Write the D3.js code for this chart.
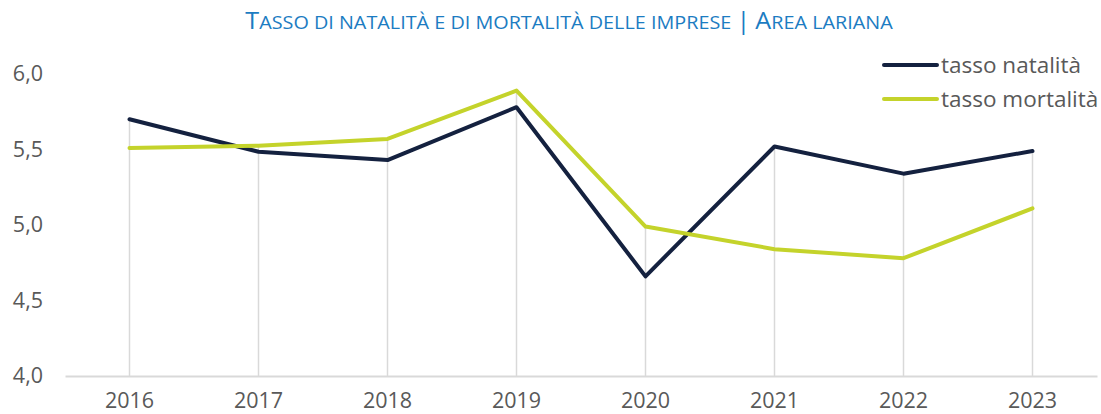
<!DOCTYPE html>
<html><head><meta charset="utf-8">
<script src="https://cdn.jsdelivr.net/npm/d3@7"></script>
<style>body{margin:0;background:#fff;}svg{display:block;}</style>
</head><body>
<svg id="c" width="1101" height="414"></svg>
<script>
const years = ["2016","2017","2018","2019","2020","2021","2022","2023"];
const natalita = [5.70, 5.485, 5.43, 5.78, 4.66, 5.52, 5.34, 5.49];
const mortalita = [5.51, 5.525, 5.57, 5.89, 4.99, 4.84, 4.78, 5.11];
const yTicks = [4.0, 4.5, 5.0, 5.5, 6.0];
const seriesNames = ["tasso natalità", "tasso mortalità"];
const colors = ["#14213f", "#c4d32b"];
const title = "Tasso di natalità e di mortalità delle imprese | Area lariana";

const svg = d3.select("#c");
const font = "'Open Sans', sans-serif";
const x = d3.scaleBand().domain(years).range([65, 1097]);
const y = d3.scaleLinear().domain([4, 6]).range([376, 74]);
const cx = d => x(d) + x.bandwidth()/2;

// title with manual small caps
const tt = svg.append("text").attr("x", 569).attr("y", 29).attr("text-anchor","middle")
  .attr("font-family", font).attr("fill","#1c7cc2");
const words = title.split(" ");
words.forEach((w,i)=>{
  const sp = i < words.length-1 ? " " : "";
  const first = w[0], rest = w.slice(1);
  const big = first === first.toUpperCase();
  if (big) {
    tt.append("tspan").attr("font-size",23.5).text(first);
    tt.append("tspan").attr("font-size",18.5).text(rest.toUpperCase()+sp);
  } else {
    tt.append("tspan").attr("font-size",18.5).text(w.toUpperCase()+sp);
  }
});
const bb = tt.node().getBBox();
const targetW = 648;
const sx = targetW / bb.width;
tt.attr("transform", `translate(${569*(1-sx)},0) scale(${sx},1)`);

// drop lines
svg.append("g").selectAll("line").data(years).join("line")
  .attr("x1", d=>cx(d)).attr("x2", d=>cx(d))
  .attr("y1", y(4)).attr("y2", (d,i)=>y(Math.max(natalita[i], mortalita[i])))
  .attr("stroke","#d9d9d9").attr("stroke-width",1.5);

// x axis
const xa = svg.append("g").attr("transform",`translate(0,${y(4)})`)
  .call(d3.axisBottom(x).tickSize(0).tickPadding(17));
xa.select(".domain").attr("stroke","#d9d9d9").attr("stroke-width",2);
xa.selectAll("text").attr("font-family",font).attr("font-size",21.5).attr("fill","#595959");

// y axis
const ya = svg.append("g").attr("transform","translate(43,0)")
  .call(d3.axisLeft(y).tickValues(yTicks).tickSize(0).tickPadding(0)
    .tickFormat(d=>d3.format(".1f")(d).replace(".",",")));
ya.select(".domain").remove();
ya.selectAll("text").attr("font-family",font).attr("font-size",21.5).attr("fill","#595959");

const line = d3.line().x((d,i)=>cx(years[i])).y(d=>y(d));
[natalita, mortalita].forEach((s,k)=>{
  svg.append("path").datum(s).attr("d", line).attr("fill","none")
    .attr("stroke", colors[k]).attr("stroke-width",4).attr("stroke-linejoin","round").attr("stroke-linecap","round");
});

// legend
const lg = svg.append("g");
seriesNames.forEach((n,k)=>{
  const ly = 65 + k*34;
  lg.append("line").attr("x1",884).attr("x2",937).attr("y1",ly).attr("y2",ly)
    .attr("stroke",colors[k]).attr("stroke-width",4).attr("stroke-linecap","round");
  lg.append("text").attr("x",941).attr("y",ly).attr("dy","0.35em")
    .attr("font-family",font).attr("font-size",22.5).attr("fill","#595959").text(n);
});
</script>
</body></html>
